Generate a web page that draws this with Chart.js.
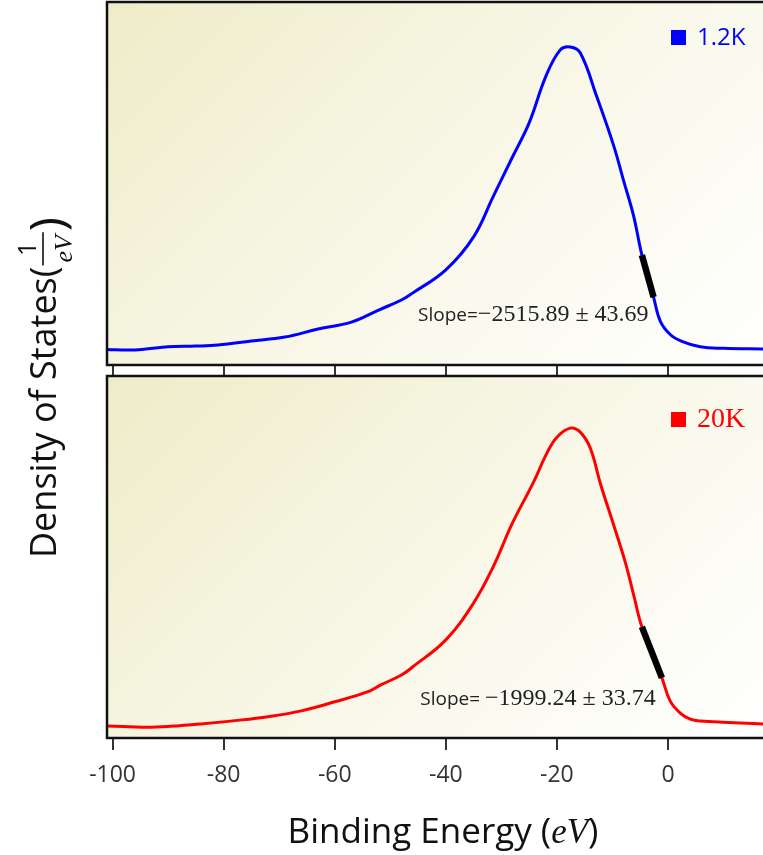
<!DOCTYPE html>
<html>
<head>
<meta charset="utf-8">
<script src="https://cdn.jsdelivr.net/npm/chart.js@4.4.1/dist/chart.umd.min.js"></script>
<style>
html, body { margin: 0; padding: 0; background: #fff; }
#wrap { position: relative; width: 763px; height: 855px; overflow: hidden; }
canvas { position: absolute; left: 0; }
</style>
</head>
<body>
<div id="wrap">
  <canvas id="topChart" width="763" height="855" style="top:0"></canvas>
  <canvas id="bottomChart" width="763" height="481" style="top:374px"></canvas>
</div>
<script>
// tick labels of the shared energy axis
const xTicks = [-100, -80, -60, -40, -20, 0];

// 1.2K spectrum
const energy12K = [-101, -97, -94, -90, -85, -81, -75, -69, -63, -57, -52, -48, -46, -40, -35, -31.5, -28, -25, -22, -19.4,
    -17.6, -15.8, -12.8, -9.8, -8, -6.2, -4.7, -2.6, -1.4, 0.4, 2.5, 5.8, 10, 17.1];
const dos12K = [4.3, 4.1, 4.4, 5.0, 5.2, 5.5, 6.6, 7.7, 9.9, 11.8, 15.2, 17.9, 19.8, 26.2, 35.3, 46.3, 57.3, 66.7, 79.5, 86.8,
    87.6, 86.0, 73.8, 60.5, 50.8, 41.1, 30.3, 18.7, 12.1, 8.4, 6.5, 5.0, 4.6, 4.4];
const fitEnergy12K = [-4.7, -2.6];
const fitDos12K = [30.3, 18.7];

// 20K spectrum
const energy20K = [-101, -97, -93, -88, -84, -78, -72, -66, -60, -54, -51.8, -48, -46, -40, -35, -31.5, -28, -24.3, -21.8, -20,
    -17.6, -15.8, -14, -12.1, -9.9, -7.7, -6.1, -4.7, -1.1, 0.4, 2.2, 4, 5.8, 17.1];
const dos20K = [3.3, 3.1, 3.0, 3.4, 3.9, 4.8, 5.9, 7.5, 10.0, 12.8, 14.6, 17.4, 19.6, 27.1, 37.3, 47.2, 59.4, 70.4, 78.7, 83.1,
    85.6, 84.5, 80.1, 69.9, 59.4, 48.6, 39.0, 30.7, 16.6, 10.2, 6.9, 5.2, 4.7, 3.9];
const fitEnergy20K = [-4.7, -1.1];
const fitDos20K = [30.7, 16.6];

const SANS = '"Open Sans", "Noto Sans", sans-serif';
const SERIF = '"Liberation Serif", "DejaVu Serif", serif';

function toPoints(xs, ys) {
    return xs.map(function (x, i) { return { x: x, y: ys[i] }; });
}

function drawRuns(ctx, runs, x, y) {
    runs.forEach(function (r) {
        ctx.font = r.font;
        ctx.fillText(r.text, x, y);
        x += ctx.measureText(r.text).width;
    });
}

function runsWidth(ctx, runs) {
    let w = 0;
    runs.forEach(function (r) {
        ctx.font = r.font;
        w += ctx.measureText(r.text).width;
    });
    return w;
}

// background, frame, legend box and slope note of one panel
const panelPlugin = {
    id: 'panel',
    beforeDraw(chart, args, opts) {
        const ctx = chart.ctx;
        const a = chart.chartArea;
        const w = a.right - a.left, h = a.bottom - a.top;
        const d = (w + h) / 2;
        const g = ctx.createLinearGradient(a.left, a.top, a.left + d, a.top + d);
        g.addColorStop(0, '#eeecc8');
        g.addColorStop(0.45, '#f7f6e4');
        g.addColorStop(1, '#ffffff');
        ctx.save();
        ctx.fillStyle = g;
        ctx.fillRect(a.left, a.top, w, h);
        ctx.restore();
    },
    afterDatasetsDraw(chart, args, opts) {
        const ctx = chart.ctx;
        const a = chart.chartArea;
        ctx.save();
        ctx.strokeStyle = '#111';
        ctx.lineWidth = 2.5;
        ctx.beginPath();
        ctx.moveTo(a.right + 2, a.top);
        ctx.lineTo(a.left, a.top);
        ctx.lineTo(a.left, a.bottom);
        ctx.lineTo(a.right + 2, a.bottom);
        ctx.stroke();
        ctx.restore();
    },
    afterDraw(chart, args, opts) {
        const ctx = chart.ctx;
        const a = chart.chartArea;
        const xs = chart.scales.x;
        const ys = chart.scales.y;
        ctx.save();
        // legend
        ctx.fillStyle = opts.color;
        ctx.fillRect(a.right - 92, a.top + opts.boxDy, 15, 15);
        ctx.font = opts.labelFont;
        ctx.textBaseline = 'alphabetic';
        ctx.fillText(opts.label, a.right - 66, a.top + opts.labelDy);
        // slope note
        ctx.fillStyle = '#222';
        drawRuns(ctx, opts.slope, xs.getPixelForValue(opts.slopeAt[0]), ys.getPixelForValue(opts.slopeAt[1]));
        ctx.restore();
    }
};

// axis titles drawn with mixed fonts (italic eV, stacked fraction)
const titlePlugin = {
    id: 'titles',
    afterDraw(chart, args, opts) {
        const ctx = chart.ctx;
        ctx.save();
        ctx.fillStyle = '#111';
        ctx.textBaseline = 'alphabetic';
        if (opts.yTitle) {
            ctx.translate(56, 558);
            ctx.rotate(-Math.PI / 2);
            ctx.font = '36px ' + SANS;
            const main = 'Density of States(';
            ctx.fillText(main, 0, 0);
            let x = ctx.measureText(main).width + 1;
            ctx.font = 'italic 26px ' + SERIF;
            const we = ctx.measureText('eV').width;
            const fw = we + 6;
            ctx.fillText('eV', x + (fw - we) / 2, 16);
            ctx.font = '25px ' + SANS;
            const w1 = ctx.measureText('1').width;
            ctx.fillText('1', x + (fw - w1) / 2, -20);
            ctx.strokeStyle = '#111';
            ctx.lineWidth = 1.6;
            ctx.beginPath();
            ctx.moveTo(x, -13);
            ctx.lineTo(x + fw, -13);
            ctx.stroke();
            ctx.font = '48px ' + SANS;
            ctx.fillText(')', x + fw + 1, 8);
        }
        if (opts.xTitle) {
            const runs = [
                { text: 'Binding Energy (', font: '35px ' + SANS },
                { text: 'eV', font: 'italic 35px ' + SERIF },
                { text: ')', font: '35px ' + SANS }
            ];
            const w = runsWidth(ctx, runs);
            drawRuns(ctx, runs, 443 - w / 2, 469);
        }
        ctx.restore();
    }
};

function makeDatasets(energy, dos, fitE, fitD, color) {
    return [
        {
            data: toPoints(fitE, fitD),
            borderColor: '#000',
            borderWidth: 6.5,
            borderCapStyle: 'butt',
            pointRadius: 0
        },
        {
            data: toPoints(energy, dos),
            borderColor: color,
            borderWidth: 3,
            pointRadius: 0,
            tension: 0.4
        }
    ];
}

function xScale(showLabels, height, tickLength) {
    return {
        type: 'linear',
        min: -101,
        max: 17.1,
        afterBuildTicks: function (s) { s.ticks = xTicks.map(function (v) { return { value: v }; }); },
        afterFit: function (s) { s.height = height; },
        border: { display: false },
        grid: { drawOnChartArea: false, drawTicks: true, tickLength: tickLength, color: '#333', lineWidth: 2 },
        ticks: {
            display: showLabels,
            color: '#333',
            padding: 12,
            font: { family: SANS, size: 23 },
            maxRotation: 0
        }
    };
}

new Chart(document.getElementById('topChart'), {
    type: 'line',
    data: { datasets: makeDatasets(energy12K, dos12K, fitEnergy12K, fitDos12K, '#0000ff') },
    options: {
        responsive: false,
        animation: false,
        devicePixelRatio: 1,
        layout: { padding: { top: 2, left: 107, right: 0, bottom: 480 } },
        scales: {
            x: xScale(false, 10, 10),
            y: { display: false, min: 0, max: 100 }
        },
        plugins: {
            legend: { display: false },
            tooltip: { enabled: false },
            panel: {
                color: '#0000ff',
                label: '1.2K',
                labelFont: '24px ' + SANS,
                boxDy: 28,
                labelDy: 43,
                slopeAt: [-45, 12.1],
                slope: [
                    { text: 'Slope=', font: '19px ' + SANS },
                    { text: '\u22122515.89 \u00b1 43.69', font: '24px ' + SERIF }
                ]
            },
            titles: { yTitle: true }
        }
    },
    plugins: [panelPlugin, titlePlugin]
});

new Chart(document.getElementById('bottomChart'), {
    type: 'line',
    data: { datasets: makeDatasets(energy20K, dos20K, fitEnergy20K, fitDos20K, '#ff0000') },
    options: {
        responsive: false,
        animation: false,
        devicePixelRatio: 1,
        layout: { padding: { top: 2, left: 107, right: 0, bottom: 0 } },
        scales: {
            x: xScale(true, 117, 12),
            y: { display: false, min: 0, max: 100 }
        },
        plugins: {
            legend: { display: false },
            tooltip: { enabled: false },
            panel: {
                color: '#ff0000',
                label: '20K',
                labelFont: '28px ' + SERIF,
                boxDy: 36,
                labelDy: 51,
                slopeAt: [-44.6, 9.1],
                slope: [
                    { text: 'Slope= ', font: '19px ' + SANS },
                    { text: '\u22121999.24 \u00b1 33.74', font: '24px ' + SERIF }
                ]
            },
            titles: { xTitle: true }
        }
    },
    plugins: [panelPlugin, titlePlugin]
});
</script>
</body>
</html>
